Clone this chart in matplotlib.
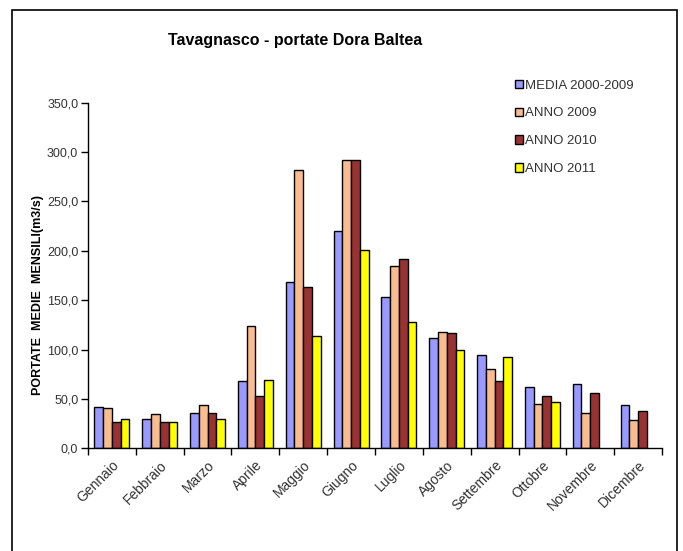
import numpy as np
import matplotlib.pyplot as plt
from matplotlib.patches import Rectangle

plt.rcParams['font.family'] = ['Liberation Sans', 'DejaVu Sans']

# Dati (portate medie mensili, m3/s)
mesi = ["Gennaio", "Febbraio", "Marzo", "Aprile", "Maggio", "Giugno",
        "Luglio", "Agosto", "Settembre", "Ottobre", "Novembre", "Dicembre"]
media_2000_2009 = [42.2, 29.7, 36.0, 68.0, 168.0, 219.6, 153.0, 112.0, 94.0, 62.0, 65.0, 44.0]
anno_2009 = [40.5, 34.5, 44.0, 124.0, 282.0, 292.0, 184.8, 118.0, 80.0, 45.0, 36.0, 28.7]
anno_2010 = [27.0, 27.0, 36.0, 52.7, 163.5, 292.0, 192.0, 116.5, 68.0, 53.0, 56.0, 37.8]
anno_2011 = [29.7, 27.0, 29.7, 69.6, 114.0, 201.0, 128.4, 99.7, 92.6, 47.0, np.nan, np.nan]

serie = [media_2000_2009, anno_2009, anno_2010, anno_2011]
etichette = ["MEDIA 2000-2009", "ANNO 2009", "ANNO 2010", "ANNO 2011"]
colori = ["#9999FF", "#F9BC8F", "#993333", "#FFFF00"]
yticks = [0, 50, 100, 150, 200, 250, 300, 350]

fig = plt.figure(figsize=(6.83, 5.51), dpi=100)
ax = fig.add_axes([88 / 683, 1 - 448.3 / 551, (662 - 88) / 683, (448.3 - 102.7) / 551])

x = np.arange(len(mesi))
w = 0.183
for i, (vals, lab, col) in enumerate(zip(serie, etichette, colori)):
    ax.bar(x + (i - 1.5) * w, vals, w, color=col, edgecolor="black",
           linewidth=1, label=lab)

ax.set_xlim(-0.5, len(mesi) - 0.5)
ax.set_ylim(0, 350)
ax.set_yticks(yticks)
ax.set_yticklabels([f"{v:.1f}".replace(".", ",") for v in yticks],
                   fontsize=9, color="#333333")
ax.set_xticks(x)
ax.set_xticklabels(mesi, rotation=45, ha="right", rotation_mode="anchor",
                   fontsize=10, color="#333333")
ax.tick_params(axis="x", length=0, pad=7)
ax.set_xticks(np.arange(-0.5, len(mesi)), minor=True)
ax.tick_params(axis="x", which="minor", length=5, width=1, direction="out")
ax.tick_params(axis="y", length=5, width=1, direction="out", pad=2)

for s in ["top", "right"]:
    ax.spines[s].set_visible(False)
ax.spines["left"].set_linewidth(1)
ax.spines["bottom"].set_linewidth(1)

fig.text(295 / 683, 1 - 40 / 551, "Tavagnasco - portate Dora Baltea",
         ha="center", va="center", fontsize=11.5, fontweight="bold")
fig.text(38 / 683, 1 - 295 / 551, "PORTATE  MEDIE  MENSILI(m3/s)",
         rotation=90, ha="center", va="center", fontsize=9, fontweight="bold")

ax.legend(loc="upper left", bbox_to_anchor=(508 / 683, 1 - 73 / 551),
          bbox_transform=fig.transFigure, frameon=False, fontsize=9.5,
          handlelength=0.6, handleheight=0.6, handletextpad=0.2,
          labelspacing=1.2, borderpad=0, labelcolor="#333333")

# cornice esterna
fig.patches.append(Rectangle((12 / 683, -0.05), (677 - 12) / 683, 1.05 - 10 / 551,
                             transform=fig.transFigure, fill=False,
                             edgecolor="black", linewidth=1.2))

fig.savefig("out.png", dpi=100)
